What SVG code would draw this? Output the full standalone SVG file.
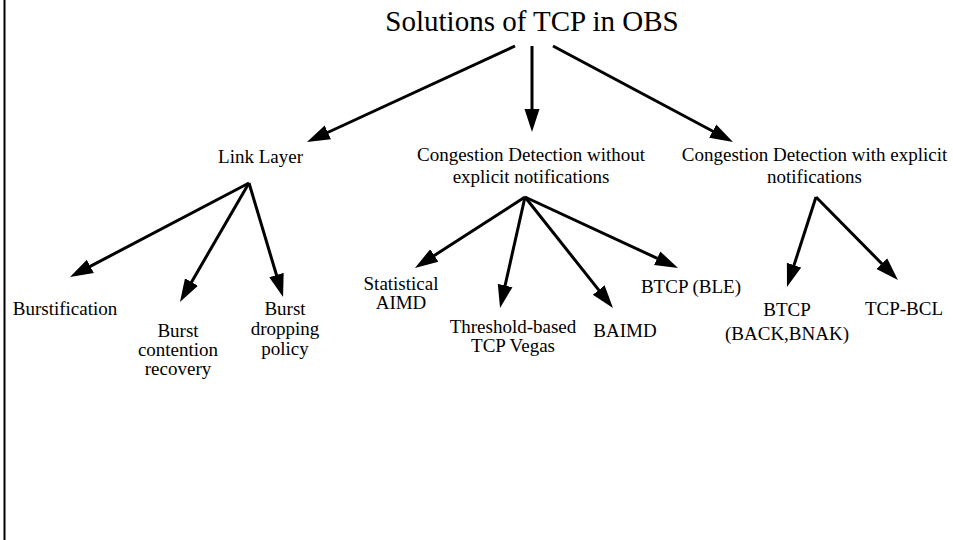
<svg xmlns="http://www.w3.org/2000/svg" width="953" height="540" viewBox="0 0 953 540" font-family="'Liberation Serif', 'DejaVu Serif', serif">
<style>
text{fill:#000;text-anchor:middle}
.t{font-size:29px}
.l{font-size:19px}
.c{stroke:#000;stroke-width:3;fill:none;marker-end:url(#ah)}
</style>
<defs>
<marker id="ah" markerUnits="userSpaceOnUse" markerWidth="26" markerHeight="18" viewBox="0 -9 26 18" refX="5" refY="0" orient="auto">
<path d="M0,-7.5 L23,0 L0,7.5 z" fill="#000"/>
</marker>
</defs>
<rect width="953" height="540" fill="#fff"/>
<line x1="4.5" y1="0" x2="4.5" y2="540" stroke="#000" stroke-width="2"/>
<g id="connectors">
<line class="c" x1="515" y1="46" x2="323.3" y2="134.5"/>
<line class="c" x1="532" y1="46" x2="532" y2="114"/>
<line class="c" x1="553" y1="46" x2="717.1" y2="133.5"/>
<line class="c" x1="249" y1="183" x2="85.9" y2="268.6"/>
<line class="c" x1="249" y1="183" x2="189" y2="286.4"/>
<line class="c" x1="249" y1="183" x2="277.9" y2="279.8"/>
<line class="c" x1="525" y1="197" x2="430.1" y2="258.2"/>
<line class="c" x1="525" y1="197" x2="504" y2="290.4"/>
<line class="c" x1="525" y1="197" x2="601.8" y2="293.9"/>
<line class="c" x1="525" y1="197" x2="661.7" y2="260.4"/>
<line class="c" x1="816" y1="197" x2="792.5" y2="269.9"/>
<line class="c" x1="816" y1="197" x2="885.3" y2="267.2"/>
</g>
<g id="root"><text class="t" x="532" y="31">Solutions of TCP in OBS</text></g>
<g id="link-layer"><text class="l" x="260.5" y="163">Link Layer</text></g>
<g id="cd-without"><text class="l" x="531" y="161">Congestion Detection without</text><text class="l" x="531" y="183">explicit notifications</text></g>
<g id="cd-with"><text class="l" x="814.5" y="161">Congestion Detection with explicit</text><text class="l" x="814.5" y="183">notifications</text></g>
<g id="burstification"><text class="l" x="65" y="315">Burstification</text></g>
<g id="contention"><text class="l" x="178" y="337">Burst</text><text class="l" x="178" y="356">contention</text><text class="l" x="178" y="375">recovery</text></g>
<g id="dropping"><text class="l" x="285" y="315">Burst</text><text class="l" x="285" y="335">dropping</text><text class="l" x="285" y="355">policy</text></g>
<g id="statistical"><text class="l" x="401" y="290">Statistical</text><text class="l" x="401" y="309">AIMD</text></g>
<g id="threshold"><text class="l" x="513" y="333">Threshold-based</text><text class="l" x="513" y="352">TCP Vegas</text></g>
<g id="baimd"><text class="l" x="625" y="337">BAIMD</text></g>
<g id="btcp-ble"><text class="l" x="691" y="293">BTCP (BLE)</text></g>
<g id="btcp"><text class="l" x="787" y="316">BTCP</text><text class="l" x="787" y="340">(BACK,BNAK)</text></g>
<g id="tcp-bcl"><text class="l" x="904" y="315">TCP-BCL</text></g>
</svg>
